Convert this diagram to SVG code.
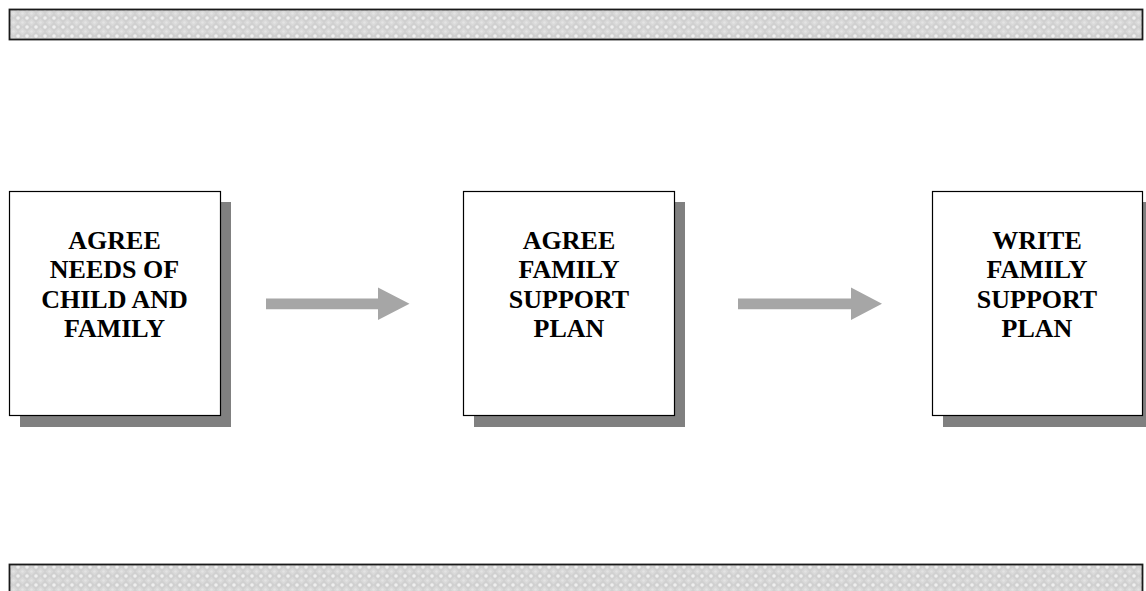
<svg xmlns="http://www.w3.org/2000/svg" width="1146" height="591" viewBox="0 0 1146 591">
  <defs>
    <!-- fine lattice texture for the two banner bars -->
    <pattern id="lattice" width="9" height="9" patternUnits="userSpaceOnUse">
      <rect width="9" height="9" fill="#d0d0d0"/>
      <path d="M4.5 0.5 L8.5 4.5 L4.5 8.5 L0.5 4.5 Z" fill="#d9d9d9"/>
      <circle cx="0" cy="0" r="1.8" fill="#efefef"/>
      <circle cx="9" cy="0" r="1.8" fill="#efefef"/>
      <circle cx="0" cy="9" r="1.8" fill="#efefef"/>
      <circle cx="9" cy="9" r="1.8" fill="#efefef"/>
      <circle cx="4.5" cy="4.5" r="1.3" fill="#e4e4e4"/>
    </pattern>
  </defs>
  <style>
    .bar { fill: url(#lattice); stroke: #1a1a1a; stroke-width: 1.8; }
    .shadow { fill: #808080; }
    .box { fill: #ffffff; stroke: #000000; stroke-width: 1.2; }
    .label { font-family: "Liberation Serif", "Times New Roman", serif; font-weight: bold; font-size: 26px; fill: #000000; text-anchor: middle; }
    .arrow { fill: #a6a6a6; }
  </style>
  <rect width="1146" height="591" fill="#ffffff"/>

  <!-- banner bars -->
  <rect id="top-bar" class="bar" x="9.5" y="9.5" width="1133" height="30"/>
  <rect id="bottom-bar" class="bar" x="9.5" y="564.5" width="1133" height="40"/>

  <g id="node-agree-needs">
    <rect class="shadow" x="20" y="202" width="211" height="225"/>
    <rect class="box" x="9.5" y="191.5" width="211" height="224"/>
    <text class="label" x="114.5" y="248.5">AGREE</text>
    <text class="label" x="114.5" y="278">NEEDS OF</text>
    <text class="label" x="114.5" y="307.5">CHILD AND</text>
    <text class="label" x="114.5" y="337">FAMILY</text>
  </g>

  <g id="node-agree-plan">
    <rect class="shadow" x="474" y="202" width="211" height="225"/>
    <rect class="box" x="463.5" y="191.5" width="211" height="224"/>
    <text class="label" x="569" y="248.5">AGREE</text>
    <text class="label" x="569" y="278">FAMILY</text>
    <text class="label" x="569" y="307.5">SUPPORT</text>
    <text class="label" x="569" y="337">PLAN</text>
  </g>

  <g id="node-write-plan">
    <rect class="shadow" x="943" y="202" width="211" height="225"/>
    <rect class="box" x="932.5" y="191.5" width="210" height="224"/>
    <text class="label" x="1037" y="248.5">WRITE</text>
    <text class="label" x="1037" y="278">FAMILY</text>
    <text class="label" x="1037" y="307.5">SUPPORT</text>
    <text class="label" x="1037" y="337">PLAN</text>
  </g>

  <g id="connectors">
    <path class="arrow" d="M266 298.5 H378 V287.5 L409.5 303.8 L378 320 V309.3 H266 Z"/>
    <path class="arrow" d="M738 298.5 H851 V287.5 L882 303.8 L851 320 V309.3 H738 Z"/>
  </g>
</svg>
